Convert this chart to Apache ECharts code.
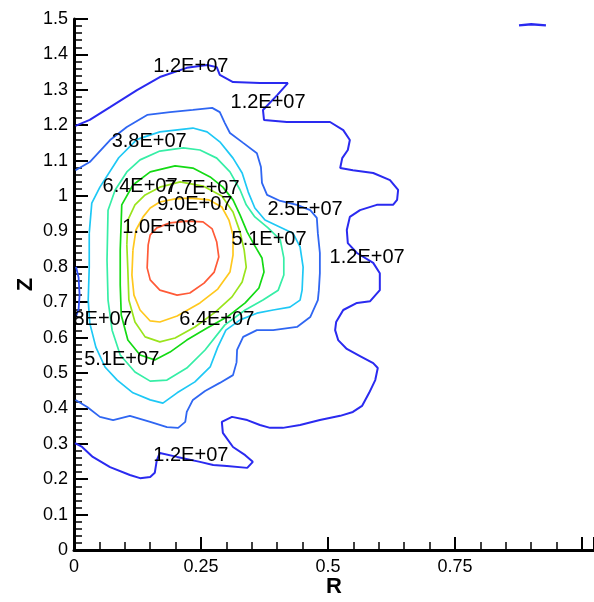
<!DOCTYPE html>
<html><head><meta charset="utf-8">
<script src="https://cdn.jsdelivr.net/npm/echarts/dist/echarts.min.js"></script>
<style>html,body{margin:0;padding:0;background:#fff}#c{width:594px;height:602px}</style>
</head><body><div id="c"></div>
<script>
// ---- data (R, Z) ----
const level_1_2E7 = [[0.003,1.198],[0.031,1.215],[0.071,1.251],[0.124,1.299],[0.169,1.336],[0.222,1.362],[0.262,1.370],[0.281,1.364],[0.287,1.342],[0.313,1.322],[0.366,1.319],[0.421,1.319],[0.400,1.285],[0.372,1.243],[0.374,1.215],[0.419,1.209],[0.465,1.209],[0.504,1.209],[0.530,1.186],[0.543,1.158],[0.539,1.130],[0.528,1.107],[0.524,1.079],[0.549,1.073],[0.589,1.065],[0.622,1.045],[0.638,1.017],[0.636,0.989],[0.628,0.975],[0.596,0.975],[0.563,0.960],[0.543,0.941],[0.537,0.904],[0.539,0.867],[0.557,0.839],[0.589,0.811],[0.602,0.782],[0.602,0.734],[0.583,0.703],[0.557,0.698],[0.530,0.678],[0.516,0.644],[0.514,0.621],[0.520,0.593],[0.537,0.568],[0.563,0.548],[0.589,0.528],[0.598,0.514],[0.593,0.480],[0.581,0.444],[0.567,0.407],[0.549,0.390],[0.524,0.379],[0.484,0.367],[0.445,0.353],[0.411,0.345],[0.386,0.345],[0.366,0.353],[0.341,0.367],[0.311,0.376],[0.291,0.362],[0.293,0.331],[0.313,0.291],[0.337,0.268],[0.352,0.249],[0.341,0.232],[0.301,0.237],[0.274,0.240],[0.248,0.249],[0.203,0.263],[0.169,0.274],[0.163,0.254],[0.159,0.218],[0.150,0.206],[0.130,0.203],[0.110,0.212],[0.071,0.234],[0.037,0.263],[0.016,0.291],[0.002,0.302]];
const level_1_2E7_top = [[0.876,1.482],[0.900,1.485],[0.929,1.482]];
const level_axis_bit = [[0.004,0.800],[0.009,0.770],[0.011,0.720],[0.009,0.680],[0.004,0.660]];
const level_2_5E7 = [[0.003,1.073],[0.031,1.096],[0.071,1.158],[0.104,1.195],[0.144,1.229],[0.189,1.237],[0.234,1.243],[0.272,1.249],[0.287,1.237],[0.297,1.206],[0.307,1.178],[0.333,1.150],[0.360,1.121],[0.368,1.082],[0.370,1.037],[0.380,1.003],[0.406,0.986],[0.439,0.975],[0.465,0.960],[0.478,0.938],[0.480,0.895],[0.484,0.839],[0.484,0.782],[0.482,0.734],[0.480,0.706],[0.465,0.658],[0.439,0.630],[0.392,0.621],[0.360,0.621],[0.333,0.602],[0.321,0.565],[0.320,0.530],[0.313,0.494],[0.287,0.472],[0.258,0.449],[0.234,0.424],[0.222,0.390],[0.219,0.362],[0.205,0.345],[0.183,0.347],[0.150,0.362],[0.110,0.379],[0.077,0.367],[0.051,0.376],[0.026,0.404],[0.003,0.424]];
const level_3_8E7 = [[0.030,0.895],[0.035,0.980],[0.051,1.025],[0.088,1.108],[0.124,1.160],[0.169,1.181],[0.234,1.192],[0.262,1.181],[0.287,1.153],[0.313,1.107],[0.331,1.065],[0.343,1.011],[0.356,0.966],[0.376,0.932],[0.406,0.912],[0.431,0.895],[0.445,0.856],[0.451,0.799],[0.449,0.734],[0.445,0.706],[0.425,0.686],[0.392,0.678],[0.360,0.669],[0.327,0.650],[0.299,0.621],[0.283,0.573],[0.268,0.517],[0.238,0.475],[0.203,0.444],[0.175,0.415],[0.150,0.424],[0.116,0.444],[0.085,0.480],[0.061,0.517],[0.043,0.573],[0.031,0.641],[0.028,0.706],[0.030,0.799],[0.030,0.895]];
const level_5_1E7 = [[0.065,0.819],[0.067,0.960],[0.081,1.017],[0.104,1.068],[0.130,1.102],[0.169,1.127],[0.215,1.136],[0.248,1.130],[0.281,1.107],[0.307,1.068],[0.327,1.017],[0.339,0.975],[0.356,0.941],[0.382,0.910],[0.406,0.876],[0.413,0.825],[0.413,0.777],[0.402,0.734],[0.372,0.706],[0.337,0.678],[0.297,0.636],[0.258,0.565],[0.222,0.514],[0.183,0.480],[0.150,0.477],[0.120,0.503],[0.091,0.551],[0.075,0.621],[0.067,0.706],[0.065,0.819]];
const level_6_4E7 = [[0.091,0.847],[0.094,0.975],[0.116,1.031],[0.150,1.068],[0.199,1.085],[0.234,1.079],[0.268,1.054],[0.293,1.025],[0.313,0.989],[0.327,0.946],[0.341,0.898],[0.356,0.859],[0.370,0.825],[0.374,0.785],[0.364,0.740],[0.337,0.698],[0.301,0.658],[0.262,0.627],[0.222,0.593],[0.189,0.559],[0.159,0.537],[0.130,0.551],[0.106,0.593],[0.093,0.664],[0.091,0.749],[0.091,0.847]];
const level_7_7E7 = [[0.104,0.862],[0.106,0.932],[0.120,0.975],[0.140,1.003],[0.169,1.025],[0.209,1.040],[0.254,1.028],[0.291,1.000],[0.313,0.955],[0.327,0.898],[0.335,0.847],[0.339,0.799],[0.331,0.757],[0.311,0.715],[0.278,0.672],[0.238,0.630],[0.199,0.599],[0.169,0.588],[0.140,0.602],[0.120,0.644],[0.108,0.706],[0.106,0.791],[0.104,0.862]];
const level_9_0E7 = [[0.116,0.847],[0.122,0.904],[0.136,0.941],[0.150,0.966],[0.169,0.983],[0.199,0.992],[0.228,0.994],[0.266,0.989],[0.291,0.969],[0.305,0.932],[0.313,0.890],[0.313,0.833],[0.307,0.785],[0.283,0.737],[0.248,0.698],[0.203,0.661],[0.169,0.644],[0.150,0.647],[0.130,0.678],[0.118,0.720],[0.114,0.777],[0.116,0.847]];
const level_1_0E8 = [[0.146,0.862],[0.150,0.890],[0.163,0.910],[0.189,0.924],[0.222,0.929],[0.254,0.927],[0.272,0.907],[0.281,0.870],[0.285,0.828],[0.276,0.785],[0.256,0.754],[0.228,0.726],[0.203,0.720],[0.169,0.734],[0.150,0.763],[0.144,0.797],[0.146,0.862]];

const labelTexts = ['1.2E+07','1.2E+07','3.8E+07','6.4E+07','7.7E+07','9.0E+07','2.5E+07','1.0E+08','5.1E+07','1.2E+07','3.8E+07','6.4E+07','5.1E+07','1.2E+07'];
const labelR     = [0.230,0.382,0.148,0.130,0.252,0.238,0.455,0.169,0.384,0.577,0.040,0.281,0.094,0.230];
const labelZ     = [1.367,1.263,1.153,1.028,1.020,0.977,0.963,0.910,0.876,0.825,0.650,0.650,0.537,0.268];

const xTickLabels = [0, 0.25, 0.5, 0.75];

// ---- chart ----
const FONT = '"Liberation Sans", Arial, Helvetica, sans-serif';
function line(data, color, width) {
  return { type: 'line', data: data, showSymbol: false, symbol: 'none', silent: true,
           animation: false, clip: true, lineStyle: { color: color, width: width }, z: 2 };
}
const chart = echarts.init(document.getElementById('c'), null, { renderer: 'canvas' });
chart.setOption({
  animation: false,
  backgroundColor: '#fff',
  grid: { left: 74, right: 0, top: 19, bottom: 52, containLabel: false, outerBoundsMode: 'none' },
  xAxis: {
    type: 'value', min: 0, max: 1.0236, interval: 0.25,
    name: 'R', nameLocation: 'middle', nameGap: 26, nameMoveOverlap: false,
    nameTextStyle: { fontFamily: FONT, fontWeight: 'bold', fontSize: 22, color: '#000' },
    axisLine: { lineStyle: { color: '#000', width: 3 } },
    axisTick: { inside: true, length: 13, lineStyle: { color: '#000', width: 2 } },
    minorTick: { show: true, splitNumber: 5, length: 8, lineStyle: { color: '#000', width: 1.5 } },
    splitLine: { show: false },
    axisLabel: { fontFamily: FONT, fontSize: 18, color: '#000', margin: 8,
      formatter: function (v) { return xTickLabels.indexOf(+v.toFixed(4)) >= 0 ? String(+v.toFixed(4)) : ''; } }
  },
  yAxis: {
    type: 'value', min: 0, max: 1.5, interval: 0.1,
    name: 'Z', nameLocation: 'middle', nameGap: 37, nameRotate: 90, nameMoveOverlap: false,
    nameTextStyle: { fontFamily: FONT, fontWeight: 'bold', fontSize: 22, color: '#000' },
    axisLine: { show: true, lineStyle: { color: '#000', width: 3 } },
    axisTick: { show: true, inside: true, length: 14, lineStyle: { color: '#000', width: 2 } },
    minorTick: { show: true, splitNumber: 5, length: 8, lineStyle: { color: '#000', width: 1.5 } },
    splitLine: { show: false },
    axisLabel: { fontFamily: FONT, fontSize: 18, color: '#000', margin: 6 }
  },
  series: [
    line(level_1_2E7, '#2a2af0', 2),
    line(level_1_2E7_top, '#2a2af0', 2.5),
    line(level_axis_bit, '#3050f5', 1.8),
    line(level_2_5E7, '#2f66f2', 1.8),
    line(level_3_8E7, '#1ec8f5', 1.7),
    line(level_5_1E7, '#36eea6', 1.7),
    line(level_6_4E7, '#14da14', 1.7),
    line(level_7_7E7, '#9ae41c', 1.7),
    line(level_9_0E7, '#ffc81e', 1.7),
    line(level_1_0E8, '#ff5a37', 1.7),
    {
      type: 'custom', clip: true, silent: true, animation: false, z: 5,
      data: labelTexts.map(function (t, i) { return [labelR[i], labelZ[i], i]; }),
      renderItem: function (params, api) {
        const p = api.coord([api.value(0), api.value(1)]);
        const idx = api.value(2);
        return { type: 'text', x: p[0], y: p[1],
          style: { text: labelTexts[idx], fill: '#000', font: '20px ' + FONT,
                   align: 'center', verticalAlign: 'middle' } };
      }
    }
  ]
});
</script>
</body></html>
